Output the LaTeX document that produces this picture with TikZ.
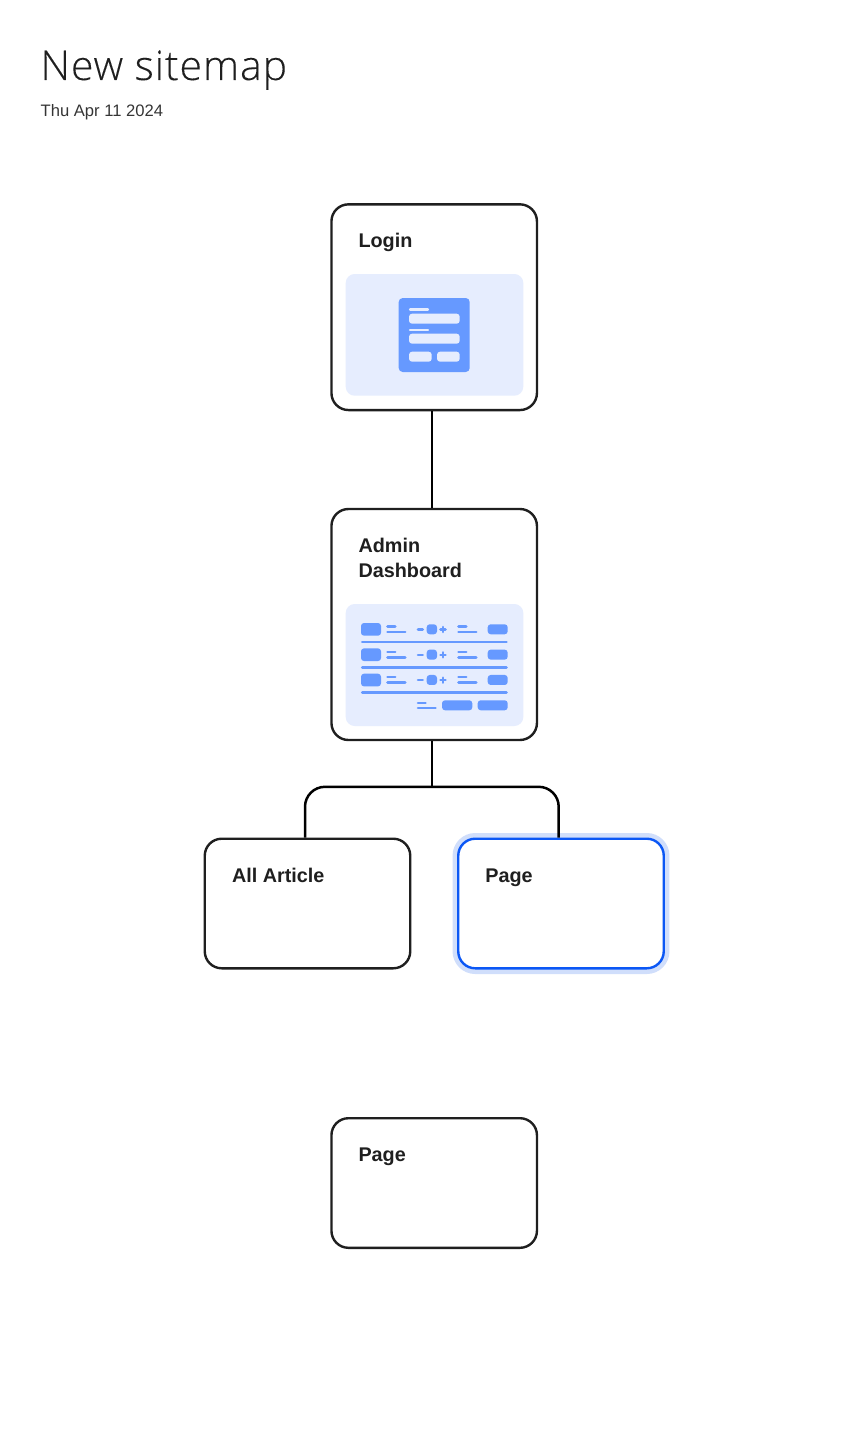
\documentclass[tikz,border=0pt]{standalone}
\usepackage{fontspec}
\setmainfont{Liberation Sans}
\newfontfamily\titlefont[LetterSpace=2.2,FakeBold=0.12]{Open Sans Light}
\definecolor{ink}{HTML}{1F1F1F}
\definecolor{panelblue}{HTML}{E6EDFE}
\definecolor{iconblue}{HTML}{6699FF}
\definecolor{selblue}{HTML}{0B57F5}
\definecolor{haloblue}{HTML}{D0DEFB}
\tikzset{
  x=1pt,y=-1pt,
  card/.style={draw=ink,fill=white,line width=2.4pt,rounded corners=17pt,minimum width=205.5pt,inner sep=0pt,outer sep=1.2pt},
  selcard/.style={card,draw=selblue,preaction={draw=haloblue,line width=11.4pt}},
  label/.style={anchor=base west,inner sep=0pt,outer sep=0pt,text=ink,font=\bfseries\fontsize{19.8}{25}\selectfont},
  wire/.style={draw=black,line width=2.5pt},
  panel/.style={fill=panelblue,rounded corners=9pt},
  icon/.style={fill=iconblue,rounded corners=3pt},
  iconlight/.style={fill=panelblue,rounded corners=3pt},
  rule/.style={draw=iconblue,line width=2.6pt,line cap=round},
  lightrule/.style={draw=panelblue,line width=2.2pt,line cap=round},
}
\begin{document}
\begin{tikzpicture}
\useasboundingbox (0,0) rectangle (863,1447);
\node[anchor=base west,inner sep=0pt,text=ink,font=\titlefont\fontsize{41}{48}\selectfont] (title) at (40.3,80) {New sitemap};
\node[anchor=base west,inner sep=0pt,text=ink!90,font=\fontsize{16.6}{20}\selectfont] (date) at (40.5,116.5) {Thu Apr 11 2024};

\node[card,minimum height=205.7pt] (login) at (434.2,307.2) {};
\node[card,minimum height=231pt] (dash) at (434.2,624.5) {};
\node[card,minimum height=129.6pt] (article) at (307.5,903.5) {};
\node[selcard,minimum height=129.6pt] (page) at (561,903.5) {};
\node[card,minimum height=129.6pt] (lone) at (434.2,1183) {};

\coordinate (trunk) at (431.8,786.8);
\coordinate (leftb) at (305,786.8);
\coordinate (rightb) at (558.7,786.8);
\draw[wire] (login.south -| trunk) -- (dash.north -| trunk);
\draw[wire] (dash.south -| trunk) -- (trunk);
\draw[wire,rounded corners=20pt] (article.north -| leftb) -- (leftb) -- (rightb) -- (page.north -| rightb);

\node[label] (loginlabel) at (358.5,247.4) {Login};
\node[label] (dashlabel) at (358.5,552) {Admin};
\node[label] (dashlabelb) at (358.5,577) {Dashboard};
\node[label] (articlelabel) at (232,882.3) {All Article};
\node[label] (pagelabel) at (485.3,882.3) {Page};
\node[label] (lonelabel) at (358.5,1161.3) {Page};

% Login form illustration
\fill[panel] (345.7,274) rectangle (523.3,395.7);
\fill[icon,rounded corners=4pt] (398.7,298) rectangle (469.7,372);
\draw[lightrule] (410,309.5) -- (428,309.5);
\fill[iconlight] (409,313.7) rectangle (459.7,323.7);
\draw[lightrule] (410,329.8) -- (428,329.8);
\fill[iconlight] (409,333.7) rectangle (459.7,343.7);
\fill[iconlight] (409,351.7) rectangle (431.7,361.7);
\fill[iconlight] (437,351.7) rectangle (459.7,361.7);

% Dashboard illustration
\fill[panel] (345.7,604) rectangle (523.3,726);
\foreach \dy in {0,25.33,50.67}{
  \begin{scope}[yshift=-\dy pt]
    \fill[icon] (361,623) rectangle (381,635.7);
    \draw[rule] (387.5,626.5) -- (395.2,626.5);
    \draw[rule] (387.5,632) -- (405.2,632);
    \draw[rule] (418,629.5) -- (422.7,629.5);
    \fill[icon] (426.7,624.3) rectangle (437,634.3);
    \draw[rule] (440.5,629.5) -- (445.5,629.5);
    \draw[rule] (443,627) -- (443,632);
    \draw[rule] (458.5,626.5) -- (466.2,626.5);
    \draw[rule] (458.5,632) -- (476.2,632);
    \fill[icon] (487.7,624.3) rectangle (507.7,634.3);
    \draw[rule] (362.2,642) -- (506.5,642);
  \end{scope}
}
\draw[rule] (418,703) -- (425.5,703);
\draw[rule] (418,708) -- (435.5,708);
\fill[icon] (442,700.3) rectangle (472.3,710.3);
\fill[icon] (477.7,700.3) rectangle (507.7,710.3);
\end{tikzpicture}
\end{document}
